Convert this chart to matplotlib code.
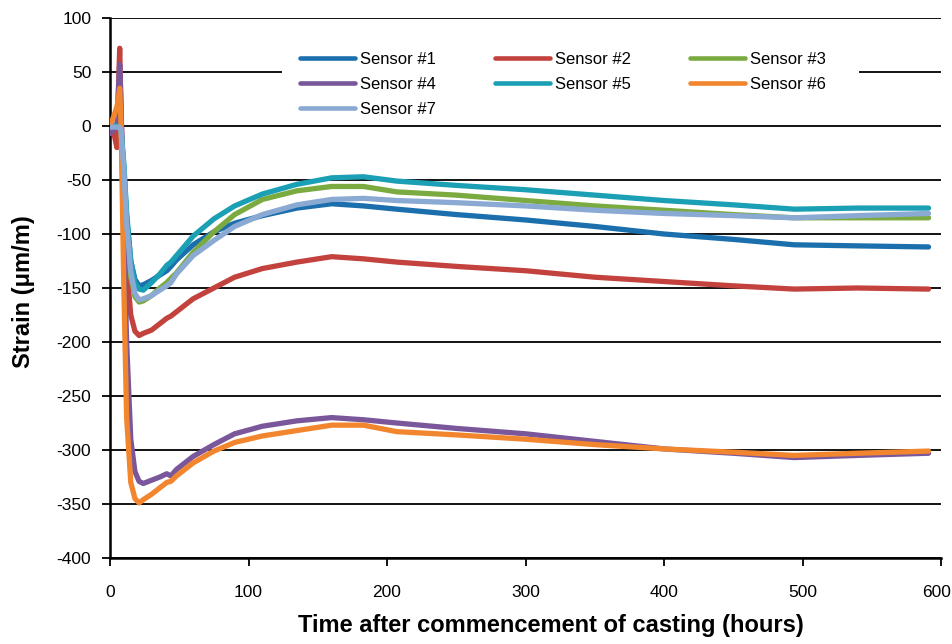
import matplotlib
matplotlib.use("Agg")
import matplotlib.pyplot as plt
from matplotlib.patches import Rectangle
from matplotlib.transforms import ScaledTranslation

plt.rcParams['font.family'] = ['Liberation Sans', 'DejaVu Sans']
plt.rcParams['axes.unicode_minus'] = False

hours = [0, 3, 5, 6, 7, 8, 10, 12, 15, 18, 21, 24, 30, 36, 41, 44, 48, 60, 75, 90,
         110, 135, 160, 183, 207, 250, 300, 350, 400, 450, 494, 540, 591]

sensor1 = [0, 0, 1, 1, 1, -5, -40, -85, -125, -142, -148, -147, -143, -138, -134, -130, -124, -110, -98, -90,
           -83, -76, -72, -74, -77, -82, -87, -93, -100, -105, -110, -111, -112]
sensor2 = [-5, -8, -20, 30, 72, 10, -60, -130, -175, -190, -194, -192, -189, -183, -178, -176, -172, -160, -150, -140,
           -132, -126, -121, -123, -126, -130, -134, -140, -144, -148, -151, -150, -151]
sensor3 = [0, 0, 0, 0, 0, -5, -45, -95, -140, -158, -163, -162, -157, -150, -145, -141, -136, -117, -98, -82,
           -68, -60, -56, -56, -61, -64, -69, -74, -78, -82, -85, -85, -85]
sensor4 = [-7, -3, 0, 30, 57, 20, -100, -200, -290, -320, -329, -331, -328, -325, -322, -324, -318, -306, -295, -285,
           -278, -273, -270, -272, -275, -280, -285, -292, -299, -303, -307, -305, -303]
sensor5 = [0, 0, 0, 0, 0, -2, -35, -80, -125, -145, -151, -152, -145, -137, -129, -126, -120, -102, -86, -74,
           -63, -54, -48, -47, -51, -55, -59, -64, -69, -73, -77, -76, -76]
sensor6 = [0, 10, 18, 25, 35, 0, -150, -270, -330, -345, -349, -346, -341, -335, -330, -329, -324, -312, -301, -293,
           -287, -282, -277, -277, -283, -286, -290, -295, -299, -302, -305, -303, -301]
sensor7 = [-1, -1, -1, -1, -1, -5, -40, -90, -135, -155, -161, -160, -157, -152, -148, -145, -137, -120, -106, -93,
           -82, -73, -68, -67, -69, -71, -74, -78, -81, -83, -85, -83, -81]

labels = ['Sensor #1', 'Sensor #2', 'Sensor #3', 'Sensor #4', 'Sensor #5', 'Sensor #6', 'Sensor #7']
colors = ['#1B6FAD', '#C3423D', '#7BAA40', '#7A579B', '#1A9FB5', '#F2862F', '#8AAAD4']
series = [sensor1, sensor2, sensor3, sensor4, sensor5, sensor6, sensor7]

fig = plt.figure(figsize=(9.52, 6.44), dpi=100)
ax = fig.add_axes([110/952, 1-558/644, 831/952, 540/644])

handles = []
for vals, lab, col in zip(series, labels, colors):
    ln, = ax.plot(hours, vals, color=col, lw=3.8, label=lab, solid_capstyle='round',
                  solid_joinstyle='round', zorder=3)
    handles.append(ln)

ax.set_xlim(0, 600)
ax.set_ylim(-400, 100)
ax.set_xticks(range(0, 601, 100))
ax.set_yticks(range(-400, 101, 50))
ax.yaxis.grid(True, color='black', lw=1.3, zorder=1)
ax.set_axisbelow(True)
for s in ['top', 'right']:
    ax.spines[s].set_visible(False)
for s in ['left', 'bottom']:
    ax.spines[s].set_linewidth(1.8)
ax.tick_params(direction='out', length=5.5, width=1.3, labelsize=12.5)
ax.tick_params(axis='x', pad=14)
ax.tick_params(axis='y', pad=8)

# keep the last x tick label inside the figure, as in the reference
last = ax.get_xticklabels()[-1]
last.set_transform(last.get_transform() + ScaledTranslation(-4/100, 0, fig.dpi_scale_trans))

ax.set_xlabel('Time after commencement of casting (hours)', fontsize=17, fontweight='bold')
ax.set_ylabel('Strain (μm/m)', fontsize=17, fontweight='bold')
ax.xaxis.set_label_coords(0.531, -0.103)
ax.yaxis.set_label_coords(-0.0905, 0.493)

# white legend background box (covers the gridline behind the legend)
ax.add_patch(Rectangle((0.207, 0.81), 0.694, 0.15, transform=ax.transAxes,
                       facecolor='white', edgecolor='none', zorder=2))

# row-wise legend ordering (matplotlib fills columns first)
order = [0, 3, 6, 1, 4, 2, 5]
leg = ax.legend([handles[i] for i in order], [labels[i] for i in order],
                ncol=3, loc='upper left', bbox_to_anchor=(0.2289, 0.937), fontsize=12,
                frameon=False, handlelength=3.3, handletextpad=0.3, columnspacing=3.55,
                labelspacing=0.6, borderpad=0.0, borderaxespad=0.0)
leg.set_zorder(5)
for h in leg.get_lines():
    h.set_linewidth(3.3)

fig.savefig('out.png', dpi=100)
